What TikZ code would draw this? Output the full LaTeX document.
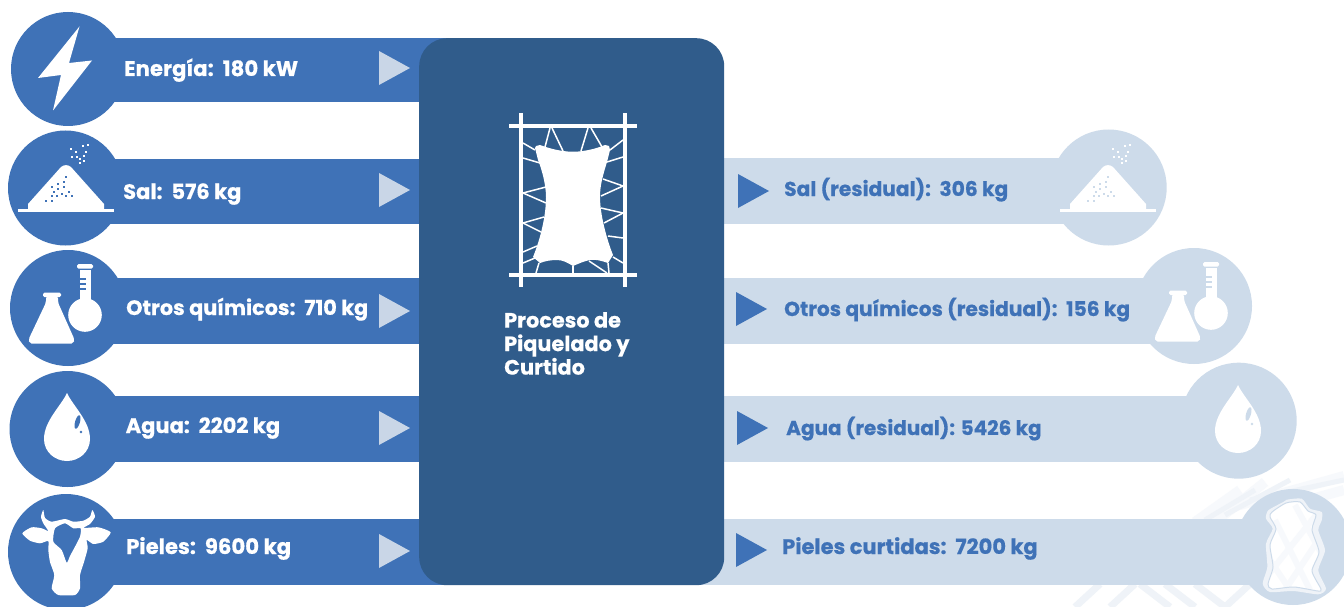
\documentclass[tikz,border=0pt]{standalone}
\usepackage{fontspec}
\setmainfont{Poppins}[BoldFeatures={FakeBold=0.5}]
\definecolor{barblue}{HTML}{3F72B7}
\definecolor{panelblue}{HTML}{305C8B}
\definecolor{lightblue}{HTML}{CDDBEA}
\definecolor{triblue}{HTML}{C9D6E7}
\definecolor{netblue}{HTML}{EFF3F8}
\definecolor{netpale}{HTML}{F7F9FC}
\tikzset{
  darkshape/.style={fill=barblue,draw=none},
  lightshape/.style={fill=lightblue,draw=none},
  panel/.style={fill=panelblue,draw=none,rounded corners=28pt},
  lefttext/.style={font=\bfseries\fontsize{21}{24}\selectfont,text=white,anchor=base west,inner sep=0pt},
  righttext/.style={font=\bfseries\fontsize{20.2}{24}\selectfont,text=barblue,anchor=base west,inner sep=0pt},
  ltri/.style={fill=triblue,draw=none},
  rtri/.style={fill=barblue,draw=none},
  tie/.style={draw=white,line width=1.5pt},
}
\newcommand{\saltglyph}[2]{%
  \fill[#1] (-48,23) rectangle (48,25.7);
  \fill[#1] (-38,23) -- (-38,18) -- (-5,-19) .. controls (-2,-21.5) and (2,-21.5) .. (5,-19) -- (38,18) -- (38,23) -- cycle;
  \foreach \x/\y in {-0.3/-9,-1.7/-4.3,-7.7/-2,-14.3/1,-7.7/2.7,-2/1,-11.7/6.3,-4.3/8,-8.7/9.7,-0.3/9.7,3/6.3,5.7/9.7,-14.3/9.7,-20/14.7,-13.7/14.7}
    \fill[#2] (\x-1.1,\y-1.1) rectangle (\x+1.1,\y+1.1);
  \foreach \x/\y in {4.7/-36.7,10.3/-34,6/-28.7,10.7/-28.7,17.3/-40,21.7/-41,20/-34,18/-30,14/-27.3,18/-25.3,14/-22.7}
    \fill[#1] (\x-1.1,\y-1.1) rectangle (\x+1.1,\y+1.1);
}
\newcommand{\chemglyph}[2]{%
  \fill[#1,rounded corners=1.5pt] (-34,-12.8) rectangle (-16,-8.5);
  \fill[#1,rounded corners=2pt] (-31,-9) -- (-19,-9) -- (-19,-3) -- (-2.5,34) -- (-3.5,38) -- (-47.5,38) -- (-48.5,34) -- (-31,-3) -- cycle;
  \fill[#1,rounded corners=1.5pt] (0,-41.5) rectangle (16,-36.8);
  \fill[#1] (2.5,-35.5) rectangle (14,0);
  \fill[#1] (8,9.5) circle (16.8);
  \foreach \y in {-26.5,-21.5,-16.5}
    \fill[#2] (2.5,\y-.7) rectangle (9,\y+.7);
}
\newcommand{\dropglyph}[2]{%
  \fill[#1] (0,-33) .. controls (-6,-20) and (-23,-5) .. (-23,13) .. controls (-23,26) and (-12,35) .. (0,35) .. controls (12,35) and (23,26) .. (23,13) .. controls (23,-5) and (6,-20) .. (0,-33) -- cycle;
  \fill[#2,rotate around={-16:(10.5,-4)}] (10.5,-4) ellipse (2.4 and 7);
  \fill[#2] (14,6) circle (1.4);
}
\begin{document}
\begin{tikzpicture}[x=1pt,y=-1pt]
\useasboundingbox (0,0) rectangle (1344,607);
\fill[white] (0,0) rectangle (1344,607);

% faint net behind the tanned hide
\begin{scope}
\clip (1040,470) rectangle (1344,607);
\foreach \a/\b/\c/\d in {1195/522/1240/490, 1215/522/1265/482, 1240/505/1344/476, 1290/505/1344/490}
  \draw[netpale,line width=10pt] (\a,\b) -- (\c,\d);
\foreach \a/\b/\c/\d in {1205/520/1255/490, 1225/515/1290/480, 1250/500/1344/480}
  \draw[netblue,line width=5pt] (\a,\b) -- (\c,\d);
\foreach \a/\b/\c/\d in {1075/607/1100/584, 1110/607/1135/584, 1140/584/1170/607, 1165/584/1195/607, 1195/584/1225/607, 1225/607/1250/584}
  \draw[netblue,line width=7pt] (\a,\b) -- (\c,\d);
\end{scope}

% incoming bars and discs
\fill[darkshape] (68,38) rectangle (460,102.5);
\fill[darkshape] (68,69) circle (57);
\fill[darkshape] (65,159) rectangle (460,224);
\fill[darkshape] (65.5,188) circle (57.5);
\fill[darkshape] (68,278) rectangle (460,343.5);
\fill[darkshape] (68,308) circle (58);
\fill[darkshape] (67.5,396) rectangle (460,461.5);
\fill[darkshape] (67.5,429) circle (58);
\fill[darkshape] (66,519) rectangle (460,584.5);
\fill[darkshape] (66,552) circle (58);

% outgoing bars and discs
\fill[lightshape] (690,158.5) rectangle (1108,223.5);
\fill[lightshape] (1108.7,187.5) circle (58);
\fill[lightshape] (690,278) rectangle (1194,343.5);
\fill[lightshape] (1194,306) circle (58);
\fill[lightshape] (690,396) rectangle (1238,461.5);
\fill[lightshape] (1238.7,420.7) circle (58);
\fill[lightshape] (690,519) rectangle (1290,584.5);
\fill[lightshape] (1293,547) circle (58);

% central panel
\node[panel,minimum width=305pt,minimum height=547pt,anchor=north west,inner sep=0pt] (proc) at (419,38) {};

% left icons
\fill[white] (79.5,26.5) -- (38,78) -- (61,75) -- (53,110.5) -- (92,60.5) -- (69,63) -- cycle;
\begin{scope}[shift={(66,186)}]\saltglyph{white}{barblue}\end{scope}
\begin{scope}[shift={(77,305.5)}]\chemglyph{white}{barblue}\end{scope}
\begin{scope}[shift={(67,426)}]\dropglyph{white}{barblue}\end{scope}
% cow head
\fill[white,even odd rule] plot[smooth cycle,tension=0.35] coordinates {
  (43.3,510) (45,518) (51.7,521.7) (65,519) (73.3,521.7) (83.3,520.7) (90,516.7) (92.3,510)
  (95,516.7) (90,524) (83.3,528) (98.3,527.3) (110.7,532.3) (103.3,541.7) (93.3,544) (86.7,540)
  (87.7,548.3) (84,562) (80,575) (80,588.3) (75,595) (58.3,595) (51.7,588.3) (54.3,575) (50,562) (48.3,550) (48.3,541)
  (40,543.3) (30,540.7) (22.3,533.3) (31.7,527.3) (41.7,528.3) (48.3,531) (43.3,523.3) (41,516.7)}
  plot[smooth cycle,tension=0.35] coordinates {
  (55,528.3) (65,523.3) (73.3,528.3) (80.7,528.3) (80,536.7) (75,546.7) (70,556) (66.7,562.7) (61.7,550) (53.3,541.7)};

% right icons
\begin{scope}[shift={(1108,186)}]\saltglyph{white}{lightblue}\end{scope}
\begin{scope}[shift={(1203,303.5)}]\chemglyph{white}{lightblue}\end{scope}
\begin{scope}[shift={(1238,418)}]\dropglyph{white}{lightblue}\end{scope}
% tanned hide
\fill[netblue] plot[smooth cycle,tension=0.4] coordinates {
  (1286.7,499.7) (1301.7,498.7) (1310,508.7) (1321.7,512) (1321.7,520.3) (1318.3,530.3) (1325,550.3) (1318.3,570.3) (1326,588.7) (1318.3,594.3) (1293.3,591) (1270,592) (1262.7,583.7) (1267.3,567) (1266,543.7) (1272.7,528.7) (1266,518.7) (1268.3,510.3) (1283.3,502)};
\begin{scope}
\clip plot[smooth cycle,tension=0.4] coordinates {
  (1286,503) (1300,502) (1308,511) (1316,515) (1312,530) (1319,552) (1312,571) (1321,589) (1318,591) (1294,587) (1272,589) (1268,584) (1273,567) (1270,545) (1276,529) (1270,517) (1272,512)};
\fill[white] (1255,495) rectangle (1330,600);
\foreach \a/\b/\c/\d in {1275/520/1310/590, 1295/505/1325/560, 1270/560/1290/590, 1268/575/1320/510, 1285/590/1325/530}
  \draw[netpale,line width=6pt] (\a,\b) -- (\c,\d);
\end{scope}
\draw[lightblue,line width=1pt] plot[smooth cycle,tension=0.4] coordinates {
  (1286,503) (1300,502) (1308,511) (1316,515) (1312,530) (1319,552) (1312,571) (1321,589) (1318,591) (1294,587) (1272,589) (1268,584) (1273,567) (1270,545) (1276,529) (1270,517) (1272,512)};

% central icon
\begin{scope}[white,line width=4pt]
\draw (521.3,113) -- (521.3,287);
\draw (624.7,113) -- (624.7,287);
\draw (509,125.7) -- (636.5,125.7);
\draw (509,275.3) -- (636.5,275.3);
\end{scope}
\fill[white] (535,148) -- (536,146) -- (540,145) .. controls (548,148) and (556,150) .. (563,151) .. controls (570,152) and (576,152) .. (583,151) .. controls (590,150) and (598,148) .. (605,145) -- (609,146) -- (610,150) -- (607,162) .. controls (603,175) and (600,185) .. (600,197) .. controls (600,215) and (607,240) .. (613,255) -- (608,263) .. controls (602,261) and (596,259) .. (590,260) .. controls (584,261) and (578,264) .. (573,266) .. controls (568,263) and (563,260) .. (557,260) .. controls (551,260) and (545,261) .. (540,263) -- (533,257) .. controls (538,245) and (546,220) .. (546,197) .. controls (546,185) and (542,170) .. (538,160) -- cycle;
\foreach \a/\b/\c/\d in {523/143/535/150, 523/158/540/163, 523/193/546/187, 523/193/546/203, 523/223/544/217, 523/223/541/232, 523/252/537/246, 523/263/535/258, 550/128/545/147, 552/128/563/151, 588/128/581/151, 591/128/602/147, 623/140/610/150, 623/157/607/162, 623/186/603/179, 623/186/601/196, 623/213/601/208, 623/213/604/223, 623/238/608/236, 623/263/613/257, 536/273/539/263, 573/273/573/266, 607/273/589/261, 609/273/608/263}
  \draw[tie] (\a,\b) -- (\c,\d);

% triangles
\foreach \y in {68,190,311,428,551} \fill[ltri] (379,\y-17) -- (410,\y) -- (379,\y+17) -- cycle;
\foreach \y/\x in {191/738,309/736,428/737,550/736} \fill[rtri] (\x,\y-17) -- (\x+31,\y) -- (\x,\y+17) -- cycle;

% labels
\node[lefttext,font=\bfseries\fontsize{21.2}{24}\selectfont] (l1) at (124,76) {Energía:\ \ 180 kW};
\node[lefttext] (l2) at (123,199) {Sal:\ \ 576 kg};
\node[lefttext,font=\bfseries\fontsize{20.8}{24}\selectfont] (l3) at (126,315) {Otros químicos:\ \ 710 kg};
\node[lefttext] (l4) at (125.5,433) {Agua:\ \ 2202 kg};
\node[lefttext,font=\bfseries\fontsize{21.2}{24}\selectfont] (l5) at (126,554) {Pieles:\ \ 9600 kg};
\node[righttext] (r1) at (784,196) {Sal (residual):\ \ 306 kg};
\node[righttext] (r2) at (784,316) {Otros químicos (residual):\ \ 156 kg};
\node[righttext,font=\bfseries\fontsize{20}{24}\selectfont] (r3) at (786,435) {Agua (residual): 5426 kg};
\node[righttext,font=\bfseries\fontsize{21}{24}\selectfont] (r4) at (782,554) {Pieles curtidas:\ \ 7200 kg};
\node[lefttext,align=left,anchor=north west,font=\bfseries\fontsize{20.8}{23.5}\selectfont] (ptitle) at (504,312) {Proceso de\\Piquelado y\\Curtido};
\end{tikzpicture}
\end{document}
